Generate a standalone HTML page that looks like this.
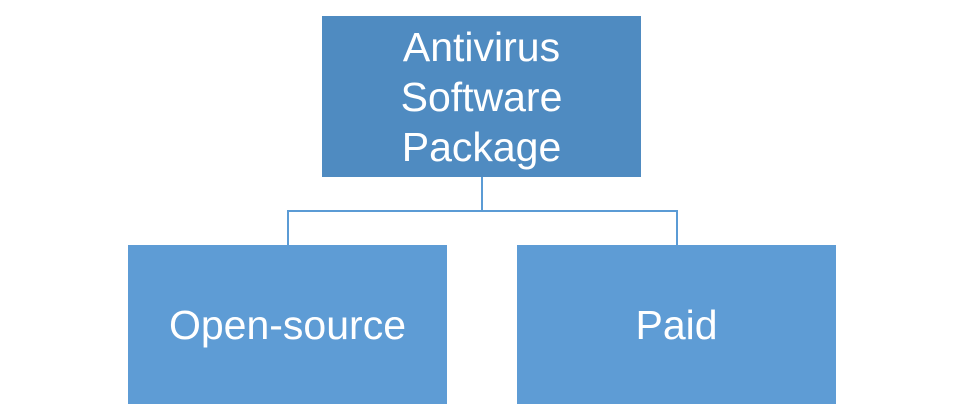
<!DOCTYPE html>
<html><head><style>
body{margin:0;width:964px;height:406px;background:#fff;position:relative;overflow:hidden;font-family:"Liberation Sans",sans-serif}
.b{position:absolute;color:#fff;display:flex;align-items:center;justify-content:center;text-align:center;font-size:41px;line-height:50px}
</style></head><body>
<div class="b" style="left:322px;top:16px;width:319px;height:161px;background:#4f8bc1">Antivirus<br>Software<br>Package</div>
<svg width="964" height="406" style="position:absolute;left:0;top:0">
<path d="M482 177V211M288 245V211H677V245" stroke="#5b9bd5" stroke-width="2" fill="none"/>
</svg>
<div class="b" style="left:128px;top:245px;width:319px;height:159px;background:#5e9cd5">Open-source</div>
<div class="b" style="left:517px;top:245px;width:319px;height:159px;background:#5e9cd5">Paid</div>
</body></html>
